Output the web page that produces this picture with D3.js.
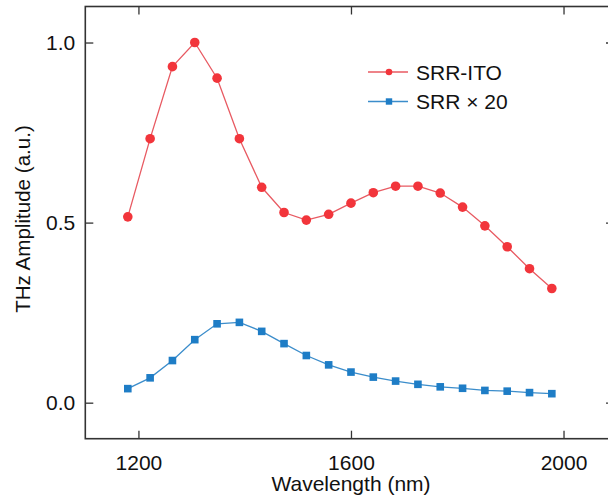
<!DOCTYPE html>
<html>
<head>
<meta charset="utf-8">
<script src="https://cdn.jsdelivr.net/npm/d3@7"></script>
<style>
html,body{margin:0;padding:0;background:#fff;}
svg{display:block;font-family:"Liberation Sans",Arial,sans-serif;}
</style>
</head>
<body>
<svg id="chart" width="608" height="502"></svg>
<script>
const wavelengths = [1180,1222,1264,1306,1348,1390,1432,1474,1516,1558,1600,1642,1684,1726,1768,1810,1852,1894,1936,1978];
const srrIto = [0.516,0.733,0.933,1.0,0.901,0.733,0.598,0.528,0.507,0.523,0.554,0.583,0.601,0.601,0.582,0.543,0.491,0.433,0.372,0.317];
const srrX20 = [0.039,0.069,0.117,0.175,0.219,0.223,0.198,0.164,0.131,0.105,0.085,0.071,0.060,0.051,0.044,0.040,0.034,0.032,0.028,0.025];
const xTicks = [1200,1600,2000];
const yTicks = [0.0,0.5,1.0];
const seriesNames = ["SRR-ITO","SRR \u00d7 20"];

(function(){
const svg = d3.select("#chart");
const x = d3.scaleLinear().domain([1100,2095]).range([85.3,614]);
const y = d3.scaleLinear().domain([-0.1,1.1]).range([438.7,6.5]);
const axisColor = "#333";
const fs = 21;

svg.append("rect").attr("x",x.range()[0]).attr("y",y.range()[1])
  .attr("width",x.range()[1]-x.range()[0]).attr("height",y.range()[0]-y.range()[1])
  .attr("fill","none").attr("stroke",axisColor).attr("stroke-width",1.6);

const gBottom = svg.append("g").attr("transform",`translate(0,${y.range()[0]})`)
  .call(d3.axisBottom(x).tickValues(xTicks).tickSize(-8).tickPadding(16).tickFormat(d3.format("d")));
const gTop = svg.append("g").attr("transform",`translate(0,${y.range()[1]})`)
  .call(d3.axisTop(x).tickValues(xTicks).tickSize(-8).tickFormat(""));
const gLeft = svg.append("g").attr("transform",`translate(${x.range()[0]},0)`)
  .call(d3.axisLeft(y).tickValues(yTicks).tickSize(-8).tickPadding(10).tickFormat(d3.format(".1f")));
const gRight = svg.append("g").attr("transform",`translate(${x.range()[1]},0)`)
  .call(d3.axisRight(y).tickValues(yTicks).tickSize(-8).tickFormat(""));
[gBottom,gTop,gLeft,gRight].forEach(g=>{
  g.select(".domain").remove();
  g.selectAll(".tick line").attr("stroke",axisColor).attr("stroke-width",1.3);
  g.selectAll(".tick text").attr("fill","#111").style("font-size",fs+"px").style("font-family","Liberation Sans, Arial, sans-serif");
});

svg.append("text").attr("x",351).attr("y",491).attr("text-anchor","middle")
  .style("font-size",fs+"px").attr("fill","#111").text("Wavelength (nm)");
svg.append("text").attr("transform","translate(29.5,219) rotate(-90)").attr("text-anchor","middle")
  .style("font-size","20.6px").attr("fill","#111").text("THz Amplitude (a.u.)");

const redM = "#F2353B", redL = "#E85A62";
const blueM = "#1E7DC6", blueL = "#3B8DCB";

const line = d3.line().x(d=>x(d[0])).y(d=>y(d[1]));
const redData = wavelengths.map((w,i)=>[w,srrIto[i]]);
const blueData = wavelengths.map((w,i)=>[w,srrX20[i]]);

svg.append("path").datum(redData).attr("d",line).attr("fill","none").attr("stroke",redL).attr("stroke-width",1.3);
svg.append("g").selectAll("circle").data(redData).join("circle")
  .attr("cx",d=>x(d[0])).attr("cy",d=>y(d[1])).attr("r",4.8).attr("fill",redM);

svg.append("path").datum(blueData).attr("d",line).attr("fill","none").attr("stroke",blueL).attr("stroke-width",1.3);
const sq = 7.6;
svg.append("g").selectAll("rect").data(blueData).join("rect")
  .attr("x",d=>x(d[0])-sq/2).attr("y",d=>y(d[1])-sq/2).attr("width",sq).attr("height",sq).attr("fill",blueM);

const leg = svg.append("g");
const legRows = [{name:seriesNames[0],c:redM,l:redL,ly:72,shape:"circle"},{name:seriesNames[1],c:blueM,l:blueL,ly:101.5,shape:"square"}];
legRows.forEach(r=>{
  leg.append("line").attr("x1",368).attr("x2",408).attr("y1",r.ly).attr("y2",r.ly).attr("stroke",r.l).attr("stroke-width",1.3);
  if(r.shape==="circle") leg.append("circle").attr("cx",389).attr("cy",r.ly).attr("r",3.3).attr("fill",r.c);
  else leg.append("rect").attr("x",389-3.2).attr("y",r.ly-3.2).attr("width",6.4).attr("height",6.4).attr("fill",r.c);
  leg.append("text").attr("x",416).attr("y",r.ly+7.5).style("font-size",fs+"px").attr("fill","#111").text(r.name);
});
})();
</script>
</body>
</html>
